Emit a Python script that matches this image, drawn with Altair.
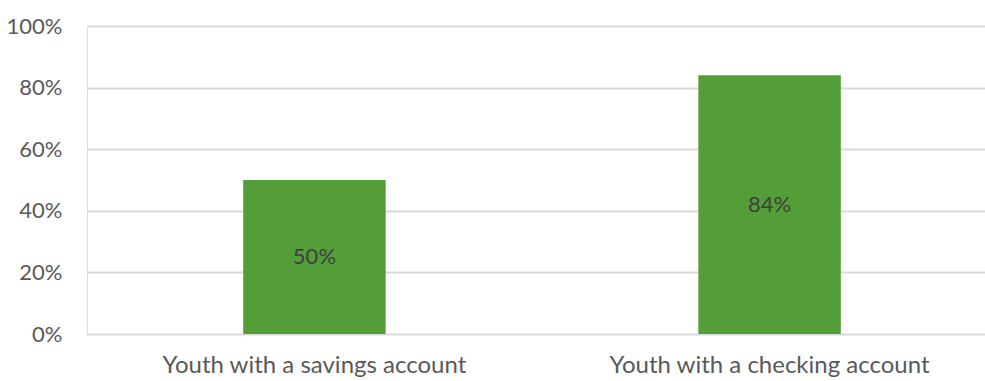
import altair as alt
import pandas as pd

categories = ["Youth with a savings account", "Youth with a checking account"]
values = [0.50, 0.84]
labels = ["50%", "84%"]

df = pd.DataFrame({"cat": categories, "val": values, "lab": labels})

FONT = "Lato"

base = alt.Chart(df).transform_calculate(mid="datum.val / 2")

x = alt.X(
    "cat:N",
    sort=categories,
    title=None,
    scale=alt.Scale(paddingInner=0.687, paddingOuter=0.33, align=0.52),
    axis=alt.Axis(
        labelAngle=0, labelFont=FONT, labelFontSize=24, labelColor="#595959",
        labelPadding=19, ticks=False, domain=False, grid=False, labelLimit=500,
    ),
)

y_scale = alt.Scale(domain=[0, 1], nice=False)
y_axis = alt.Axis(
    values=[0, 0.2, 0.4, 0.6, 0.8, 1.0], format=".0%",
    labelFont=FONT, labelFontSize=22, labelColor="#595959",
    labelPadding=25, ticks=False, domain=False,
    gridColor="#D9D9D9", gridWidth=2,
)

bars = base.mark_bar(color="#549E39").encode(
    x=x, y=alt.Y("val:Q", title=None, scale=y_scale, axis=y_axis)
)

text = base.mark_text(font=FONT, fontSize=22, color="#404040", baseline="middle").encode(
    x=x,
    y=alt.Y("mid:Q", title=None, scale=y_scale, axis=y_axis),
    text="lab:N",
)

chart = (
    alt.layer(bars, text)
    .properties(
        width=898, height=308,
        autosize=alt.AutoSizeParams(type="none"),
        padding={"left": 87, "top": 26, "right": 0, "bottom": 47},
    )
    .configure_view(strokeWidth=0, stroke="transparent")
    .configure_axis(domain=False)
    .configure(background="white")
)

chart.save("out.html", embed_options={"renderer": "svg", "actions": False})
